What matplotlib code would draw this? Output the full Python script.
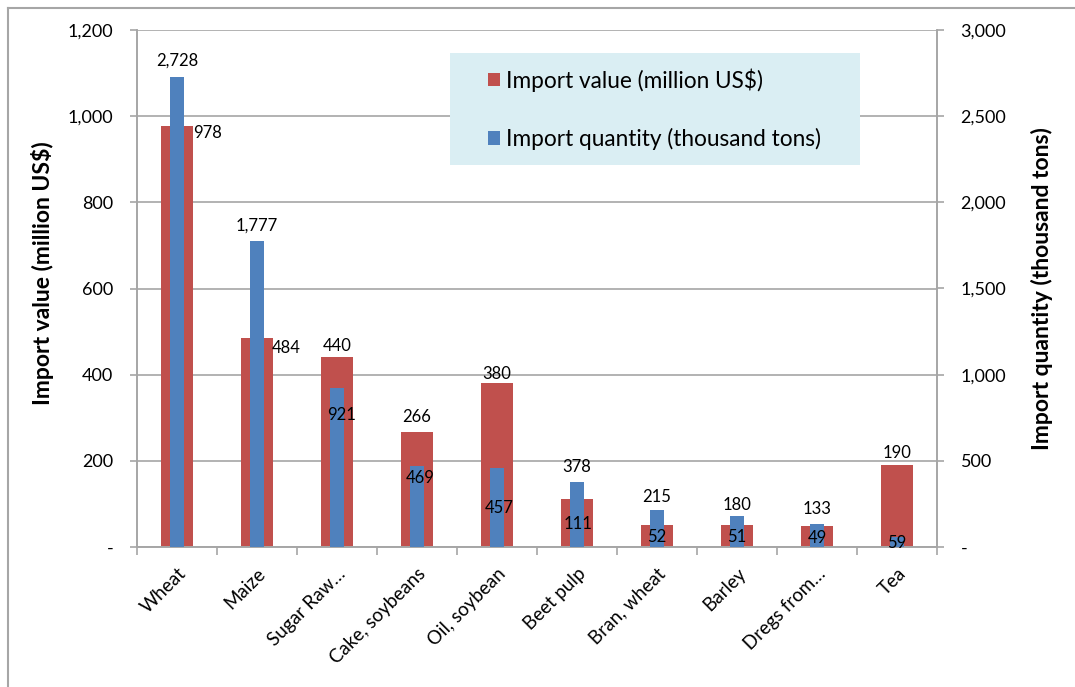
import numpy as np
import matplotlib
matplotlib.use('Agg')
import matplotlib.pyplot as plt
from matplotlib.lines import Line2D
from matplotlib.patches import Patch, Rectangle
from matplotlib.transforms import IdentityTransform

plt.rcParams['font.family'] = ['Lato', 'DejaVu Sans']

products = ['Wheat', 'Maize', 'Sugar Raw…', 'Cake, soybeans', 'Oil, soybean',
            'Beet pulp', 'Bran, wheat', 'Barley', 'Dregs from…', 'Tea']
import_value = [978, 484, 440, 266, 380, 111, 52, 51, 49, 190]          # million US$
import_quantity = [2728, 1777, 921, 469, 457, 378, 215, 180, 133, 59]   # thousand tons

left_ticks = [0, 200, 400, 600, 800, 1000, 1200]
right_ticks = [0, 500, 1000, 1500, 2000, 2500, 3000]

red = '#C0504D'
blue = '#4F81BD'
grid_col = '#A6A6A6'

# label offsets in pixels (dx, dy) from each bar top
red_off = [(31, -7), (29, -10), (0, 11), (0, 15), (0, 9), (1, -25), (0, -12), (0, -12), (0, -12), (0, 12)]
blue_off = [(0, 16), (0, 15), (5, -27), (3, -12), (2, -40), (0, 15), (0, 13), (0, 11), (0, 15), (0, -6)]

fig = plt.figure(figsize=(10.75, 6.87), dpi=100)
W, H = 1075, 687
ax = fig.add_axes([137 / W, 1 - 547 / H, 800 / W, 517 / H])
ax2 = ax.twinx()

x = np.arange(len(products))
ax.bar(x, import_value, width=0.39, color=red, zorder=2)
ax2.bar(x, import_quantity, width=0.165, color=blue, zorder=3)

ax.set_xlim(-0.5, len(products) - 0.5)
ax.set_ylim(0, 1200)
ax2.set_ylim(0, 3000)

ax.set_yticks(left_ticks)
ax.set_yticklabels(['-' if v == 0 else f'{v:,}' for v in left_ticks], fontsize=13)
ax2.set_yticks(right_ticks)
ax2.set_yticklabels(['-' if v == 0 else f'{v:,}' for v in right_ticks], fontsize=13)
ax.yaxis.grid(True, color=grid_col, linewidth=1.2, zorder=0)
ax.set_axisbelow(True)

ax.set_xticks(x)
ax.set_xticklabels(products, rotation=45, ha='right', rotation_mode='anchor', fontsize=13.5)
ax.tick_params(axis='x', length=0, pad=13)
ax.set_xticks(np.arange(len(products) + 1) - 0.5, minor=True)
ax.tick_params(axis='x', which='minor', length=6, color=grid_col, width=1.2)
ax.tick_params(axis='y', length=5, color=grid_col, width=1.2, pad=12)
ax2.tick_params(axis='y', length=5, color=grid_col, width=1.2, pad=12)

for a in (ax, ax2):
    a.spines['top'].set_visible(False)
    for s in ['left', 'right', 'bottom']:
        a.spines[s].set_color(grid_col)
        a.spines[s].set_linewidth(1.2)

ax.set_ylabel('Import value (million US$)', fontsize=16.5, fontweight='bold')
ax.yaxis.set_label_coords(-0.104, 0.53)
ax2.set_ylabel('Import quantity (thousand tons)', fontsize=16.5, fontweight='bold', labelpad=18)

for i in range(len(products)):
    dx, dy = red_off[i]
    ax2.annotate(f'{import_value[i]:,}', (x[i], import_value[i]), xycoords=ax.transData,
                 xytext=(dx, dy), textcoords='offset pixels', ha='center', va='center',
                 fontsize=12, zorder=5)
    dx, dy = blue_off[i]
    ax2.annotate(f'{import_quantity[i]:,}', (x[i], import_quantity[i]), xytext=(dx, dy),
                 textcoords='offset pixels', ha='center', va='center', fontsize=12, zorder=5)

# legend background box (wider than its content, as in the reference)
ax2.add_patch(Rectangle((450, H - 165), 410, 112, transform=IdentityTransform(),
                        facecolor='#DAEEF3', edgecolor='none', zorder=5, clip_on=False))

handles = [Patch(facecolor=red), Patch(facecolor=blue)]
leg = ax2.legend(handles, ['Import value (million US$)', 'Import quantity (thousand tons)'],
                 loc='upper left', bbox_to_anchor=(488, H - 68), bbox_transform=IdentityTransform(),
                 frameon=False, fontsize=16.3, handlelength=0.55, handleheight=0.55,
                 handletextpad=0.25, labelspacing=1.6, borderpad=0, borderaxespad=0)
leg.set_zorder(6)

# outer chart border
fig.add_artist(Line2D([8 / W, 8 / W], [0, 1 - 8 / H], color=grid_col, linewidth=1.5))
fig.add_artist(Line2D([8 / W, 1], [1 - 8 / H, 1 - 8 / H], color=grid_col, linewidth=1.5))

fig.savefig('out.png', dpi=100)
